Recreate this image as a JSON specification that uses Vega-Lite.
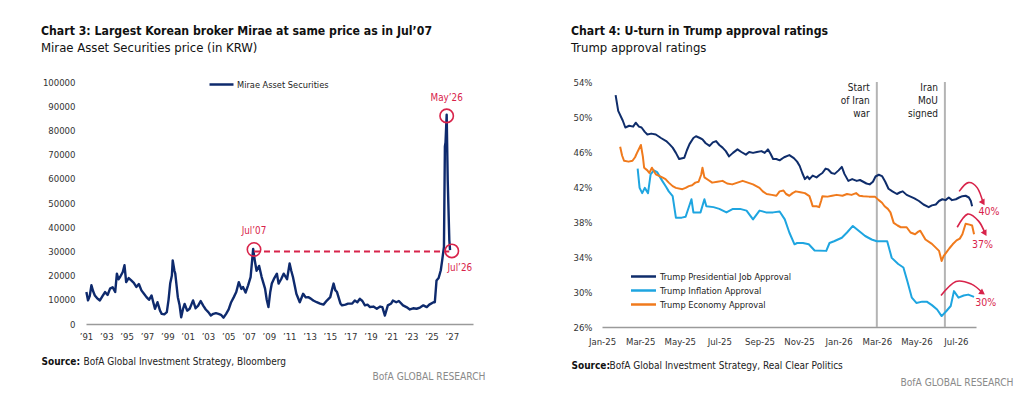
{
  "$schema": "https://vega.github.io/schema/vega-lite/v6.json",
  "description": "Chart 3: Mirae Asset Securities price; Chart 4: Trump approval ratings",
  "background": "white",
  "padding": {"left": 41, "top": 24, "right": 5, "bottom": 5},
  "spacing": 86,
  "resolve": {"scale": {"color": "independent"}, "legend": {"color": "independent"}},
  "config": {
    "font": "DejaVu Sans Condensed, DejaVu Sans, sans-serif",
    "view": {"stroke": null},
    "axis": {
      "grid": false,
      "ticks": false,
      "labelFlush": false,
      "labelOverlap": false,
      "labelFontSize": 9.5,
      "labelColor": "#333",
      "domainColor": "#9a9a9a",
      "domainWidth": 1.5,
      "titleFontSize": 10,
      "titleColor": "#222",
      "titleFontWeight": "normal"
    },
    "title": {
      "anchor": "start",
      "frame": "bounds",
      "fontSize": 12.2,
      "fontWeight": "bold",
      "color": "#111",
      "subtitleFontSize": 13,
      "subtitleColor": "#111",
      "subtitlePadding": 5,
      "offset": 22
    }
  },
  "datasets": {
    "mirae": [
      {"date": "1991-01-15", "price": 13200}, {"date": "1991-03-15", "price": 9750}, {"date": "1991-05-15", "price": 11500},
      {"date": "1991-07-15", "price": 16000}, {"date": "1991-09-15", "price": 13500}, {"date": "1991-11-15", "price": 11800},
      {"date": "1992-02-15", "price": 10500}, {"date": "1992-05-15", "price": 9750}, {"date": "1992-08-15", "price": 11500},
      {"date": "1992-11-15", "price": 13200}, {"date": "1993-02-15", "price": 12000}, {"date": "1993-05-15", "price": 14600},
      {"date": "1993-08-15", "price": 15200}, {"date": "1993-11-15", "price": 13200}, {"date": "1994-01-15", "price": 20800},
      {"date": "1994-03-15", "price": 18500}, {"date": "1994-05-15", "price": 19500}, {"date": "1994-08-15", "price": 21500},
      {"date": "1994-10-15", "price": 24300}, {"date": "1994-12-15", "price": 17300}, {"date": "1995-03-15", "price": 19000},
      {"date": "1995-06-15", "price": 18000}, {"date": "1995-09-15", "price": 17000}, {"date": "1995-12-15", "price": 15300},
      {"date": "1996-03-15", "price": 16500}, {"date": "1996-06-15", "price": 13900}, {"date": "1996-09-15", "price": 12500},
      {"date": "1996-12-15", "price": 11100}, {"date": "1997-03-15", "price": 10000}, {"date": "1997-06-15", "price": 11800},
      {"date": "1997-08-15", "price": 9000}, {"date": "1997-10-15", "price": 6300}, {"date": "1998-01-15", "price": 9000},
      {"date": "1998-04-15", "price": 5500}, {"date": "1998-06-15", "price": 4200}, {"date": "1998-09-15", "price": 4000},
      {"date": "1998-12-15", "price": 4900}, {"date": "1999-02-15", "price": 10000}, {"date": "1999-04-15", "price": 16700},
      {"date": "1999-06-15", "price": 20000}, {"date": "1999-07-15", "price": 26300}, {"date": "1999-09-15", "price": 22000},
      {"date": "1999-10-15", "price": 20800}, {"date": "2000-01-15", "price": 11100}, {"date": "2000-03-15", "price": 8000},
      {"date": "2000-05-15", "price": 2800}, {"date": "2000-07-15", "price": 6000}, {"date": "2000-09-15", "price": 8300},
      {"date": "2000-12-15", "price": 5500}, {"date": "2001-03-15", "price": 6300}, {"date": "2001-05-15", "price": 8000},
      {"date": "2001-07-15", "price": 9750}, {"date": "2001-10-15", "price": 6500}, {"date": "2002-01-15", "price": 7600},
      {"date": "2002-04-15", "price": 9500}, {"date": "2002-07-15", "price": 7600}, {"date": "2002-10-15", "price": 6000},
      {"date": "2003-01-15", "price": 4900}, {"date": "2003-04-15", "price": 3500}, {"date": "2003-07-15", "price": 4200},
      {"date": "2003-10-15", "price": 4500}, {"date": "2004-01-15", "price": 4200}, {"date": "2004-04-15", "price": 3800},
      {"date": "2004-07-15", "price": 2600}, {"date": "2004-10-15", "price": 4200}, {"date": "2005-01-15", "price": 6000},
      {"date": "2005-04-15", "price": 9000}, {"date": "2005-07-15", "price": 11000}, {"date": "2005-10-15", "price": 13200},
      {"date": "2006-01-15", "price": 17300}, {"date": "2006-04-15", "price": 14500}, {"date": "2006-06-15", "price": 15300},
      {"date": "2006-09-15", "price": 13000}, {"date": "2006-12-15", "price": 16000}, {"date": "2007-03-15", "price": 19400},
      {"date": "2007-06-15", "price": 31000}, {"date": "2007-08-15", "price": 26000}, {"date": "2007-10-15", "price": 22000},
      {"date": "2008-01-15", "price": 24000}, {"date": "2008-04-15", "price": 19400}, {"date": "2008-08-15", "price": 14600},
      {"date": "2008-10-15", "price": 10000}, {"date": "2008-12-15", "price": 7000}, {"date": "2009-02-15", "price": 13000},
      {"date": "2009-04-15", "price": 16700}, {"date": "2009-07-15", "price": 19000}, {"date": "2009-10-15", "price": 20800},
      {"date": "2009-12-15", "price": 16700}, {"date": "2010-03-15", "price": 18500}, {"date": "2010-06-15", "price": 20800},
      {"date": "2010-10-15", "price": 18500}, {"date": "2011-01-15", "price": 25000}, {"date": "2011-03-15", "price": 22000},
      {"date": "2011-05-15", "price": 19400}, {"date": "2011-07-15", "price": 16000}, {"date": "2011-09-15", "price": 12500},
      {"date": "2012-01-15", "price": 9000}, {"date": "2012-05-15", "price": 12500}, {"date": "2012-08-15", "price": 11000},
      {"date": "2012-11-15", "price": 11100}, {"date": "2013-02-15", "price": 10500}, {"date": "2013-05-15", "price": 9700},
      {"date": "2013-09-15", "price": 9000}, {"date": "2014-01-15", "price": 8400}, {"date": "2014-05-15", "price": 8000},
      {"date": "2014-09-15", "price": 9700}, {"date": "2015-01-15", "price": 11100}, {"date": "2015-03-15", "price": 14000},
      {"date": "2015-05-15", "price": 16700}, {"date": "2015-07-15", "price": 14000}, {"date": "2015-09-15", "price": 13200},
      {"date": "2016-01-15", "price": 8500}, {"date": "2016-03-15", "price": 7700}, {"date": "2016-07-15", "price": 8000},
      {"date": "2016-10-15", "price": 8400}, {"date": "2017-03-15", "price": 8500}, {"date": "2017-06-15", "price": 9700},
      {"date": "2017-09-15", "price": 9000}, {"date": "2017-12-15", "price": 10400}, {"date": "2018-03-15", "price": 9500},
      {"date": "2018-06-15", "price": 7700}, {"date": "2018-09-15", "price": 8000}, {"date": "2018-12-15", "price": 7000},
      {"date": "2019-04-15", "price": 7200}, {"date": "2019-08-15", "price": 6300}, {"date": "2019-12-15", "price": 7200},
      {"date": "2020-03-01", "price": 7000}, {"date": "2020-06-01", "price": 3500}, {"date": "2020-09-15", "price": 7700},
      {"date": "2021-01-15", "price": 8500}, {"date": "2021-03-15", "price": 9700}, {"date": "2021-07-15", "price": 9000},
      {"date": "2021-10-15", "price": 9500}, {"date": "2022-03-15", "price": 7700}, {"date": "2022-07-15", "price": 7000},
      {"date": "2022-11-15", "price": 6000}, {"date": "2023-03-15", "price": 6500}, {"date": "2023-07-15", "price": 6300},
      {"date": "2023-11-15", "price": 6800}, {"date": "2024-03-15", "price": 7700}, {"date": "2024-07-15", "price": 7000},
      {"date": "2024-10-15", "price": 8000}, {"date": "2025-03-15", "price": 9000}, {"date": "2025-05-01", "price": 9000},
      {"date": "2025-07-01", "price": 18000}, {"date": "2025-09-15", "price": 19000}, {"date": "2025-12-01", "price": 22200},
      {"date": "2026-01-20", "price": 26300}, {"date": "2026-03-25", "price": 31900}, {"date": "2026-04-28", "price": 73400},
      {"date": "2026-05-20", "price": 75000}, {"date": "2026-07-01", "price": 86500}, {"date": "2026-08-07", "price": 59500},
      {"date": "2026-10-04", "price": 34600}, {"date": "2026-10-30", "price": 30500}
    ],
    "mirae_marks": [
      {"date": "2007-07-15", "price": 30800, "label": "Jul’07"},
      {"date": "2026-07-01", "price": 86000, "label": "May’26"},
      {"date": "2027-01-01", "price": 30200, "label": "Jul’26"}
    ],
    "mirae_level": [
      {"date": "2007-07-15", "end": "2026-10-01", "price": 30000}
    ],
    "approval": [
      {"date": "2025-01-22", "series": "Trump Presidential Job Approval", "value": 52.5},
      {"date": "2025-01-26", "series": "Trump Presidential Job Approval", "value": 50.7},
      {"date": "2025-02-02", "series": "Trump Presidential Job Approval", "value": 49.6},
      {"date": "2025-02-06", "series": "Trump Presidential Job Approval", "value": 48.8},
      {"date": "2025-02-12", "series": "Trump Presidential Job Approval", "value": 49.0},
      {"date": "2025-02-18", "series": "Trump Presidential Job Approval", "value": 48.9},
      {"date": "2025-02-22", "series": "Trump Presidential Job Approval", "value": 49.35},
      {"date": "2025-02-27", "series": "Trump Presidential Job Approval", "value": 48.9},
      {"date": "2025-03-03", "series": "Trump Presidential Job Approval", "value": 48.8},
      {"date": "2025-03-08", "series": "Trump Presidential Job Approval", "value": 48.3},
      {"date": "2025-03-12", "series": "Trump Presidential Job Approval", "value": 48.0},
      {"date": "2025-03-18", "series": "Trump Presidential Job Approval", "value": 48.1},
      {"date": "2025-03-25", "series": "Trump Presidential Job Approval", "value": 48.0},
      {"date": "2025-04-02", "series": "Trump Presidential Job Approval", "value": 47.6},
      {"date": "2025-04-10", "series": "Trump Presidential Job Approval", "value": 47.25},
      {"date": "2025-04-15", "series": "Trump Presidential Job Approval", "value": 46.9},
      {"date": "2025-04-20", "series": "Trump Presidential Job Approval", "value": 46.5},
      {"date": "2025-04-25", "series": "Trump Presidential Job Approval", "value": 45.9},
      {"date": "2025-04-30", "series": "Trump Presidential Job Approval", "value": 45.2},
      {"date": "2025-05-08", "series": "Trump Presidential Job Approval", "value": 45.35},
      {"date": "2025-05-12", "series": "Trump Presidential Job Approval", "value": 46.2},
      {"date": "2025-05-16", "series": "Trump Presidential Job Approval", "value": 46.9},
      {"date": "2025-05-22", "series": "Trump Presidential Job Approval", "value": 47.6},
      {"date": "2025-05-26", "series": "Trump Presidential Job Approval", "value": 47.8},
      {"date": "2025-06-01", "series": "Trump Presidential Job Approval", "value": 47.6},
      {"date": "2025-06-05", "series": "Trump Presidential Job Approval", "value": 47.45},
      {"date": "2025-06-10", "series": "Trump Presidential Job Approval", "value": 47.0},
      {"date": "2025-06-16", "series": "Trump Presidential Job Approval", "value": 46.7},
      {"date": "2025-06-21", "series": "Trump Presidential Job Approval", "value": 47.1},
      {"date": "2025-06-26", "series": "Trump Presidential Job Approval", "value": 47.25},
      {"date": "2025-07-01", "series": "Trump Presidential Job Approval", "value": 46.8},
      {"date": "2025-07-06", "series": "Trump Presidential Job Approval", "value": 46.5},
      {"date": "2025-07-11", "series": "Trump Presidential Job Approval", "value": 46.1},
      {"date": "2025-07-16", "series": "Trump Presidential Job Approval", "value": 45.5},
      {"date": "2025-07-22", "series": "Trump Presidential Job Approval", "value": 45.9},
      {"date": "2025-07-29", "series": "Trump Presidential Job Approval", "value": 46.3},
      {"date": "2025-08-04", "series": "Trump Presidential Job Approval", "value": 46.0},
      {"date": "2025-08-11", "series": "Trump Presidential Job Approval", "value": 45.7},
      {"date": "2025-08-16", "series": "Trump Presidential Job Approval", "value": 46.0},
      {"date": "2025-08-22", "series": "Trump Presidential Job Approval", "value": 45.9},
      {"date": "2025-08-28", "series": "Trump Presidential Job Approval", "value": 46.0},
      {"date": "2025-09-04", "series": "Trump Presidential Job Approval", "value": 46.1},
      {"date": "2025-09-09", "series": "Trump Presidential Job Approval", "value": 45.9},
      {"date": "2025-09-14", "series": "Trump Presidential Job Approval", "value": 46.3},
      {"date": "2025-09-18", "series": "Trump Presidential Job Approval", "value": 45.8},
      {"date": "2025-09-22", "series": "Trump Presidential Job Approval", "value": 45.2},
      {"date": "2025-09-27", "series": "Trump Presidential Job Approval", "value": 45.2},
      {"date": "2025-10-02", "series": "Trump Presidential Job Approval", "value": 45.05},
      {"date": "2025-10-09", "series": "Trump Presidential Job Approval", "value": 45.4},
      {"date": "2025-10-17", "series": "Trump Presidential Job Approval", "value": 45.65},
      {"date": "2025-10-24", "series": "Trump Presidential Job Approval", "value": 45.3},
      {"date": "2025-10-29", "series": "Trump Presidential Job Approval", "value": 44.9},
      {"date": "2025-11-02", "series": "Trump Presidential Job Approval", "value": 44.4},
      {"date": "2025-11-06", "series": "Trump Presidential Job Approval", "value": 43.6},
      {"date": "2025-11-10", "series": "Trump Presidential Job Approval", "value": 42.9},
      {"date": "2025-11-14", "series": "Trump Presidential Job Approval", "value": 43.2},
      {"date": "2025-11-17", "series": "Trump Presidential Job Approval", "value": 42.9},
      {"date": "2025-11-22", "series": "Trump Presidential Job Approval", "value": 43.3},
      {"date": "2025-11-28", "series": "Trump Presidential Job Approval", "value": 43.1},
      {"date": "2025-12-03", "series": "Trump Presidential Job Approval", "value": 43.4},
      {"date": "2025-12-07", "series": "Trump Presidential Job Approval", "value": 43.6},
      {"date": "2025-12-12", "series": "Trump Presidential Job Approval", "value": 44.1},
      {"date": "2025-12-16", "series": "Trump Presidential Job Approval", "value": 44.0},
      {"date": "2025-12-21", "series": "Trump Presidential Job Approval", "value": 43.6},
      {"date": "2025-12-26", "series": "Trump Presidential Job Approval", "value": 43.5},
      {"date": "2026-01-01", "series": "Trump Presidential Job Approval", "value": 43.9},
      {"date": "2026-01-06", "series": "Trump Presidential Job Approval", "value": 44.3},
      {"date": "2026-01-10", "series": "Trump Presidential Job Approval", "value": 43.5},
      {"date": "2026-01-16", "series": "Trump Presidential Job Approval", "value": 42.7},
      {"date": "2026-01-22", "series": "Trump Presidential Job Approval", "value": 42.9},
      {"date": "2026-01-29", "series": "Trump Presidential Job Approval", "value": 42.7},
      {"date": "2026-02-03", "series": "Trump Presidential Job Approval", "value": 42.8},
      {"date": "2026-02-08", "series": "Trump Presidential Job Approval", "value": 42.6},
      {"date": "2026-02-13", "series": "Trump Presidential Job Approval", "value": 42.4},
      {"date": "2026-02-18", "series": "Trump Presidential Job Approval", "value": 42.3},
      {"date": "2026-02-23", "series": "Trump Presidential Job Approval", "value": 42.6},
      {"date": "2026-02-27", "series": "Trump Presidential Job Approval", "value": 43.2},
      {"date": "2026-03-04", "series": "Trump Presidential Job Approval", "value": 43.4},
      {"date": "2026-03-09", "series": "Trump Presidential Job Approval", "value": 43.25},
      {"date": "2026-03-14", "series": "Trump Presidential Job Approval", "value": 42.6},
      {"date": "2026-03-19", "series": "Trump Presidential Job Approval", "value": 41.8},
      {"date": "2026-03-25", "series": "Trump Presidential Job Approval", "value": 41.5},
      {"date": "2026-04-01", "series": "Trump Presidential Job Approval", "value": 41.2},
      {"date": "2026-04-06", "series": "Trump Presidential Job Approval", "value": 41.4},
      {"date": "2026-04-10", "series": "Trump Presidential Job Approval", "value": 41.5},
      {"date": "2026-04-16", "series": "Trump Presidential Job Approval", "value": 41.1},
      {"date": "2026-04-22", "series": "Trump Presidential Job Approval", "value": 40.9},
      {"date": "2026-04-28", "series": "Trump Presidential Job Approval", "value": 40.7},
      {"date": "2026-05-05", "series": "Trump Presidential Job Approval", "value": 40.4},
      {"date": "2026-05-12", "series": "Trump Presidential Job Approval", "value": 40.0},
      {"date": "2026-05-20", "series": "Trump Presidential Job Approval", "value": 39.7},
      {"date": "2026-05-25", "series": "Trump Presidential Job Approval", "value": 39.9},
      {"date": "2026-05-31", "series": "Trump Presidential Job Approval", "value": 40.0},
      {"date": "2026-06-05", "series": "Trump Presidential Job Approval", "value": 40.4},
      {"date": "2026-06-10", "series": "Trump Presidential Job Approval", "value": 40.6},
      {"date": "2026-06-15", "series": "Trump Presidential Job Approval", "value": 40.5},
      {"date": "2026-06-20", "series": "Trump Presidential Job Approval", "value": 40.8},
      {"date": "2026-06-25", "series": "Trump Presidential Job Approval", "value": 40.5},
      {"date": "2026-07-01", "series": "Trump Presidential Job Approval", "value": 40.6},
      {"date": "2026-07-06", "series": "Trump Presidential Job Approval", "value": 40.8},
      {"date": "2026-07-11", "series": "Trump Presidential Job Approval", "value": 40.95},
      {"date": "2026-07-16", "series": "Trump Presidential Job Approval", "value": 41.0},
      {"date": "2026-07-21", "series": "Trump Presidential Job Approval", "value": 40.8},
      {"date": "2026-07-24", "series": "Trump Presidential Job Approval", "value": 40.4},
      {"date": "2026-07-26", "series": "Trump Presidential Job Approval", "value": 39.8},
      {"date": "2025-02-25", "series": "Trump Inflation Approval", "value": 44.1},
      {"date": "2025-02-28", "series": "Trump Inflation Approval", "value": 41.9},
      {"date": "2025-03-04", "series": "Trump Inflation Approval", "value": 41.3},
      {"date": "2025-03-08", "series": "Trump Inflation Approval", "value": 41.9},
      {"date": "2025-03-13", "series": "Trump Inflation Approval", "value": 41.3},
      {"date": "2025-03-17", "series": "Trump Inflation Approval", "value": 43.45},
      {"date": "2025-03-22", "series": "Trump Inflation Approval", "value": 43.9},
      {"date": "2025-03-27", "series": "Trump Inflation Approval", "value": 43.7},
      {"date": "2025-04-04", "series": "Trump Inflation Approval", "value": 42.7},
      {"date": "2025-04-10", "series": "Trump Inflation Approval", "value": 42.0},
      {"date": "2025-04-14", "series": "Trump Inflation Approval", "value": 41.5},
      {"date": "2025-04-20", "series": "Trump Inflation Approval", "value": 40.95},
      {"date": "2025-04-25", "series": "Trump Inflation Approval", "value": 38.5},
      {"date": "2025-05-04", "series": "Trump Inflation Approval", "value": 38.5},
      {"date": "2025-05-10", "series": "Trump Inflation Approval", "value": 38.6},
      {"date": "2025-05-19", "series": "Trump Inflation Approval", "value": 40.6},
      {"date": "2025-05-22", "series": "Trump Inflation Approval", "value": 39.1},
      {"date": "2025-06-02", "series": "Trump Inflation Approval", "value": 39.1},
      {"date": "2025-06-08", "series": "Trump Inflation Approval", "value": 40.6},
      {"date": "2025-06-11", "series": "Trump Inflation Approval", "value": 39.8},
      {"date": "2025-06-22", "series": "Trump Inflation Approval", "value": 39.7},
      {"date": "2025-07-01", "series": "Trump Inflation Approval", "value": 39.5},
      {"date": "2025-07-12", "series": "Trump Inflation Approval", "value": 39.1},
      {"date": "2025-07-22", "series": "Trump Inflation Approval", "value": 39.5},
      {"date": "2025-08-02", "series": "Trump Inflation Approval", "value": 39.5},
      {"date": "2025-08-12", "series": "Trump Inflation Approval", "value": 39.3},
      {"date": "2025-08-22", "series": "Trump Inflation Approval", "value": 38.3},
      {"date": "2025-09-01", "series": "Trump Inflation Approval", "value": 39.3},
      {"date": "2025-09-11", "series": "Trump Inflation Approval", "value": 39.1},
      {"date": "2025-09-22", "series": "Trump Inflation Approval", "value": 39.1},
      {"date": "2025-10-02", "series": "Trump Inflation Approval", "value": 39.2},
      {"date": "2025-10-10", "series": "Trump Inflation Approval", "value": 38.3},
      {"date": "2025-10-17", "series": "Trump Inflation Approval", "value": 36.8},
      {"date": "2025-10-25", "series": "Trump Inflation Approval", "value": 35.45},
      {"date": "2025-10-29", "series": "Trump Inflation Approval", "value": 35.6},
      {"date": "2025-11-07", "series": "Trump Inflation Approval", "value": 35.6},
      {"date": "2025-11-16", "series": "Trump Inflation Approval", "value": 35.45},
      {"date": "2025-11-25", "series": "Trump Inflation Approval", "value": 34.75},
      {"date": "2025-12-13", "series": "Trump Inflation Approval", "value": 34.7},
      {"date": "2025-12-18", "series": "Trump Inflation Approval", "value": 35.6},
      {"date": "2025-12-25", "series": "Trump Inflation Approval", "value": 35.8},
      {"date": "2026-01-06", "series": "Trump Inflation Approval", "value": 36.2},
      {"date": "2026-01-14", "series": "Trump Inflation Approval", "value": 36.8},
      {"date": "2026-01-23", "series": "Trump Inflation Approval", "value": 37.55},
      {"date": "2026-02-01", "series": "Trump Inflation Approval", "value": 37.0},
      {"date": "2026-02-11", "series": "Trump Inflation Approval", "value": 36.4},
      {"date": "2026-02-21", "series": "Trump Inflation Approval", "value": 36.0},
      {"date": "2026-03-01", "series": "Trump Inflation Approval", "value": 35.8},
      {"date": "2026-03-17", "series": "Trump Inflation Approval", "value": 35.8},
      {"date": "2026-03-24", "series": "Trump Inflation Approval", "value": 33.9},
      {"date": "2026-04-03", "series": "Trump Inflation Approval", "value": 33.2},
      {"date": "2026-04-11", "series": "Trump Inflation Approval", "value": 32.8},
      {"date": "2026-04-17", "series": "Trump Inflation Approval", "value": 31.25},
      {"date": "2026-04-24", "series": "Trump Inflation Approval", "value": 29.35},
      {"date": "2026-05-01", "series": "Trump Inflation Approval", "value": 28.75},
      {"date": "2026-05-10", "series": "Trump Inflation Approval", "value": 28.9},
      {"date": "2026-05-17", "series": "Trump Inflation Approval", "value": 28.9},
      {"date": "2026-05-25", "series": "Trump Inflation Approval", "value": 28.5},
      {"date": "2026-06-02", "series": "Trump Inflation Approval", "value": 28.0},
      {"date": "2026-06-09", "series": "Trump Inflation Approval", "value": 27.25},
      {"date": "2026-06-16", "series": "Trump Inflation Approval", "value": 27.8},
      {"date": "2026-06-23", "series": "Trump Inflation Approval", "value": 28.4},
      {"date": "2026-06-28", "series": "Trump Inflation Approval", "value": 30.1},
      {"date": "2026-07-05", "series": "Trump Inflation Approval", "value": 29.35},
      {"date": "2026-07-13", "series": "Trump Inflation Approval", "value": 29.6},
      {"date": "2026-07-20", "series": "Trump Inflation Approval", "value": 29.7},
      {"date": "2026-07-29", "series": "Trump Inflation Approval", "value": 29.45},
      {"date": "2025-01-29", "series": "Trump Economy Approval", "value": 46.6},
      {"date": "2025-02-01", "series": "Trump Economy Approval", "value": 45.6},
      {"date": "2025-02-04", "series": "Trump Economy Approval", "value": 45.0},
      {"date": "2025-02-11", "series": "Trump Economy Approval", "value": 44.9},
      {"date": "2025-02-17", "series": "Trump Economy Approval", "value": 45.0},
      {"date": "2025-02-21", "series": "Trump Economy Approval", "value": 45.4},
      {"date": "2025-02-24", "series": "Trump Economy Approval", "value": 45.9},
      {"date": "2025-03-02", "series": "Trump Economy Approval", "value": 46.8},
      {"date": "2025-03-05", "series": "Trump Economy Approval", "value": 45.5},
      {"date": "2025-03-07", "series": "Trump Economy Approval", "value": 44.2},
      {"date": "2025-03-12", "series": "Trump Economy Approval", "value": 43.9},
      {"date": "2025-03-15", "series": "Trump Economy Approval", "value": 43.6},
      {"date": "2025-03-19", "series": "Trump Economy Approval", "value": 44.2},
      {"date": "2025-03-25", "series": "Trump Economy Approval", "value": 43.45},
      {"date": "2025-04-04", "series": "Trump Economy Approval", "value": 43.1},
      {"date": "2025-04-09", "series": "Trump Economy Approval", "value": 42.9},
      {"date": "2025-04-14", "series": "Trump Economy Approval", "value": 42.5},
      {"date": "2025-04-20", "series": "Trump Economy Approval", "value": 42.1},
      {"date": "2025-04-25", "series": "Trump Economy Approval", "value": 41.9},
      {"date": "2025-05-05", "series": "Trump Economy Approval", "value": 41.75},
      {"date": "2025-05-10", "series": "Trump Economy Approval", "value": 41.9},
      {"date": "2025-05-15", "series": "Trump Economy Approval", "value": 42.1},
      {"date": "2025-05-20", "series": "Trump Economy Approval", "value": 42.2},
      {"date": "2025-05-25", "series": "Trump Economy Approval", "value": 42.5},
      {"date": "2025-05-30", "series": "Trump Economy Approval", "value": 42.6},
      {"date": "2025-06-03", "series": "Trump Economy Approval", "value": 43.4},
      {"date": "2025-06-05", "series": "Trump Economy Approval", "value": 44.2},
      {"date": "2025-06-08", "series": "Trump Economy Approval", "value": 43.1},
      {"date": "2025-06-14", "series": "Trump Economy Approval", "value": 42.8},
      {"date": "2025-06-20", "series": "Trump Economy Approval", "value": 42.5},
      {"date": "2025-06-28", "series": "Trump Economy Approval", "value": 42.6},
      {"date": "2025-07-06", "series": "Trump Economy Approval", "value": 42.7},
      {"date": "2025-07-13", "series": "Trump Economy Approval", "value": 42.4},
      {"date": "2025-07-21", "series": "Trump Economy Approval", "value": 42.3},
      {"date": "2025-07-29", "series": "Trump Economy Approval", "value": 42.5},
      {"date": "2025-08-06", "series": "Trump Economy Approval", "value": 42.7},
      {"date": "2025-08-14", "series": "Trump Economy Approval", "value": 42.5},
      {"date": "2025-08-22", "series": "Trump Economy Approval", "value": 42.3},
      {"date": "2025-09-01", "series": "Trump Economy Approval", "value": 41.9},
      {"date": "2025-09-06", "series": "Trump Economy Approval", "value": 41.5},
      {"date": "2025-09-12", "series": "Trump Economy Approval", "value": 41.2},
      {"date": "2025-09-20", "series": "Trump Economy Approval", "value": 41.1},
      {"date": "2025-09-27", "series": "Trump Economy Approval", "value": 41.0},
      {"date": "2025-10-02", "series": "Trump Economy Approval", "value": 41.5},
      {"date": "2025-10-08", "series": "Trump Economy Approval", "value": 41.6},
      {"date": "2025-10-12", "series": "Trump Economy Approval", "value": 41.2},
      {"date": "2025-10-17", "series": "Trump Economy Approval", "value": 41.0},
      {"date": "2025-10-22", "series": "Trump Economy Approval", "value": 41.3},
      {"date": "2025-10-27", "series": "Trump Economy Approval", "value": 41.5},
      {"date": "2025-11-03", "series": "Trump Economy Approval", "value": 41.4},
      {"date": "2025-11-10", "series": "Trump Economy Approval", "value": 41.3},
      {"date": "2025-11-17", "series": "Trump Economy Approval", "value": 40.95},
      {"date": "2025-11-20", "series": "Trump Economy Approval", "value": 40.3},
      {"date": "2025-11-22", "series": "Trump Economy Approval", "value": 39.8},
      {"date": "2025-11-28", "series": "Trump Economy Approval", "value": 39.8},
      {"date": "2025-12-02", "series": "Trump Economy Approval", "value": 39.7},
      {"date": "2025-12-05", "series": "Trump Economy Approval", "value": 40.4},
      {"date": "2025-12-07", "series": "Trump Economy Approval", "value": 40.95},
      {"date": "2025-12-15", "series": "Trump Economy Approval", "value": 40.9},
      {"date": "2025-12-22", "series": "Trump Economy Approval", "value": 41.0},
      {"date": "2025-12-29", "series": "Trump Economy Approval", "value": 41.1},
      {"date": "2026-01-07", "series": "Trump Economy Approval", "value": 41.0},
      {"date": "2026-01-14", "series": "Trump Economy Approval", "value": 41.2},
      {"date": "2026-01-21", "series": "Trump Economy Approval", "value": 41.1},
      {"date": "2026-01-28", "series": "Trump Economy Approval", "value": 41.3},
      {"date": "2026-02-02", "series": "Trump Economy Approval", "value": 41.0},
      {"date": "2026-02-08", "series": "Trump Economy Approval", "value": 40.95},
      {"date": "2026-02-17", "series": "Trump Economy Approval", "value": 40.9},
      {"date": "2026-02-26", "series": "Trump Economy Approval", "value": 40.9},
      {"date": "2026-03-04", "series": "Trump Economy Approval", "value": 40.5},
      {"date": "2026-03-09", "series": "Trump Economy Approval", "value": 40.2},
      {"date": "2026-03-13", "series": "Trump Economy Approval", "value": 39.8},
      {"date": "2026-03-18", "series": "Trump Economy Approval", "value": 39.5},
      {"date": "2026-03-22", "series": "Trump Economy Approval", "value": 39.1},
      {"date": "2026-03-27", "series": "Trump Economy Approval", "value": 37.9},
      {"date": "2026-04-02", "series": "Trump Economy Approval", "value": 37.6},
      {"date": "2026-04-07", "series": "Trump Economy Approval", "value": 37.4},
      {"date": "2026-04-16", "series": "Trump Economy Approval", "value": 37.4},
      {"date": "2026-04-22", "series": "Trump Economy Approval", "value": 36.8},
      {"date": "2026-04-29", "series": "Trump Economy Approval", "value": 36.6},
      {"date": "2026-05-04", "series": "Trump Economy Approval", "value": 36.9},
      {"date": "2026-05-07", "series": "Trump Economy Approval", "value": 37.0},
      {"date": "2026-05-15", "series": "Trump Economy Approval", "value": 36.0},
      {"date": "2026-05-25", "series": "Trump Economy Approval", "value": 35.5},
      {"date": "2026-06-05", "series": "Trump Economy Approval", "value": 34.7},
      {"date": "2026-06-09", "series": "Trump Economy Approval", "value": 33.55},
      {"date": "2026-06-12", "series": "Trump Economy Approval", "value": 34.1},
      {"date": "2026-06-16", "series": "Trump Economy Approval", "value": 34.5},
      {"date": "2026-06-21", "series": "Trump Economy Approval", "value": 35.0},
      {"date": "2026-06-26", "series": "Trump Economy Approval", "value": 35.45},
      {"date": "2026-07-02", "series": "Trump Economy Approval", "value": 35.9},
      {"date": "2026-07-07", "series": "Trump Economy Approval", "value": 36.1},
      {"date": "2026-07-11", "series": "Trump Economy Approval", "value": 36.6},
      {"date": "2026-07-16", "series": "Trump Economy Approval", "value": 37.8},
      {"date": "2026-07-22", "series": "Trump Economy Approval", "value": 37.7},
      {"date": "2026-07-26", "series": "Trump Economy Approval", "value": 37.6},
      {"date": "2026-07-29", "series": "Trump Economy Approval", "value": 36.6}
    ],
    "events": [
      {"date": "2026-03-01", "label": "Start\nof Iran\nwar"},
      {"date": "2026-06-14", "label": "Iran\nMoU\nsigned"}
    ],
    "arrows": [
      {"arrow": "job", "date": "2026-07-06", "value": 41.5},
      {"arrow": "job", "date": "2026-07-20", "value": 42.5},
      {"arrow": "job", "date": "2026-08-03", "value": 41.9},
      {"arrow": "job", "date": "2026-08-12", "value": 40.2},
      {"arrow": "economy", "date": "2026-07-03", "value": 37.4},
      {"arrow": "economy", "date": "2026-07-19", "value": 38.9},
      {"arrow": "economy", "date": "2026-08-05", "value": 38.1},
      {"arrow": "economy", "date": "2026-08-15", "value": 36.7},
      {"arrow": "inflation", "date": "2026-06-08", "value": 29.6},
      {"arrow": "inflation", "date": "2026-07-01", "value": 31.2},
      {"arrow": "inflation", "date": "2026-07-25", "value": 30.9},
      {"arrow": "inflation", "date": "2026-08-11", "value": 29.9}
    ],
    "arrow_heads": [
      {"arrow": "job", "date": "2026-08-12", "value": 40.2},
      {"arrow": "economy", "date": "2026-08-15", "value": 36.7},
      {"arrow": "inflation", "date": "2026-08-11", "value": 29.9}
    ],
    "arrow_labels": [
      {"date": "2026-08-21", "value": 39.1, "label": "40%"},
      {"date": "2026-08-11", "value": 35.4, "label": "37%"},
      {"date": "2026-08-16", "value": 28.8, "label": "30%"}
    ]
  },
  "hconcat": [
    {
      "width": 387,
      "height": 242,
      "title": {
        "text": "Chart 3: Largest Korean broker Mirae at same price as in Jul’07",
        "subtitle": "Mirae Asset Securities price (in KRW)"
      },
      "resolve": {"axis": {"y": "independent"}},
      "layer": [
        {
          "data": {"name": "mirae"},
          "mark": {"type": "line", "strokeWidth": 2.4, "strokeJoin": "round"},
          "encoding": {
            "x": {
              "field": "date",
              "type": "temporal",
              "scale": {"type": "utc", "domain": ["1991-01-01", "2029-02-01"], "nice": false},
              "axis": {
                "values": [
                  {"year": 1991, "utc": true}, {"year": 1993, "utc": true}, {"year": 1995, "utc": true},
                  {"year": 1997, "utc": true}, {"year": 1999, "utc": true}, {"year": 2001, "utc": true},
                  {"year": 2003, "utc": true}, {"year": 2005, "utc": true}, {"year": 2007, "utc": true},
                  {"year": 2009, "utc": true}, {"year": 2011, "utc": true}, {"year": 2013, "utc": true},
                  {"year": 2015, "utc": true}, {"year": 2017, "utc": true}, {"year": 2019, "utc": true},
                  {"year": 2021, "utc": true}, {"year": 2023, "utc": true}, {"year": 2025, "utc": true},
                  {"year": 2027, "utc": true}
                ],
                "tickCount": 40,
                "format": "’%y",
                "labelOverlap": false,
                "labelSeparation": 0,
                "labelPadding": 7,
                "title": "BofA Global Investment Strategy, Bloomberg",
                "titleX": -3,
                "titleY": 40,
                "titleAlign": "left",
                "titleBaseline": "alphabetic"
              }
            },
            "y": {
              "field": "price",
              "type": "quantitative",
              "scale": {"domain": [0, 100000], "nice": false},
              "axis": {
                "values": [0, 10000, 20000, 30000, 40000, 50000, 60000, 70000, 80000, 90000, 100000],
                "format": "d",
                "domain": false,
                "labelPadding": 11,
                "title": "Source:",
                "titleAngle": 0,
                "titleAlign": "left",
                "titleBaseline": "alphabetic",
                "titleFontWeight": "bold",
                "titleColor": "#111",
                "titleX": -45,
                "titleY": 282
              }
            },
            "color": {
              "datum": "Mirae Asset Securities",
              "type": "nominal",
              "scale": {"range": ["#0e2a6d"]},
              "legend": {
                "title": null,
                "orient": "none",
                "legendX": 128,
                "legendY": -5,
                "symbolType": "M-2,0H2",
                "symbolSize": 144,
                "symbolStrokeWidth": 2.5,
                "labelOffset": 8,
                "labelFontSize": 9.2,
                "labelColor": "#222"
              }
            }
          }
        },
        {
          "data": {"name": "mirae_level"},
          "mark": {"type": "rule", "color": "#d8234a", "strokeWidth": 2, "strokeDash": [6, 4]},
          "encoding": {
            "x": {"field": "date", "type": "temporal"},
            "x2": {"field": "end"},
            "y": {"field": "price", "type": "quantitative", "axis": null}
          }
        },
        {
          "data": {"name": "mirae_marks"},
          "mark": {"type": "point", "shape": "circle", "filled": false, "color": "#d8234a", "strokeWidth": 1.6, "size": 180, "opacity": 1},
          "encoding": {
            "x": {"field": "date", "type": "temporal"},
            "y": {
              "field": "price",
              "type": "quantitative",
              "axis": {
                "orient": "right",
                "labels": false,
                "domain": false,
                "title": "BofA GLOBAL RESEARCH",
                "titleAngle": 0,
                "titleAlign": "right",
                "titleBaseline": "alphabetic",
                "titleColor": "#8a8a8a",
                "titleFontSize": 10.2,
                "titleX": 12,
                "titleY": 297.5
              }
            }
          }
        },
        {
          "data": {"name": "mirae_marks"},
          "transform": [{"filter": "datum.label !== 'Jul’26'"}],
          "mark": {"type": "text", "color": "#d8234a", "fontSize": 9.8, "dy": -18},
          "encoding": {
            "x": {"field": "date", "type": "temporal"},
            "y": {"field": "price", "type": "quantitative", "axis": null},
            "text": {"field": "label"}
          }
        },
        {
          "data": {"name": "mirae_marks"},
          "transform": [{"filter": "datum.label === 'Jul’26'"}],
          "mark": {"type": "text", "color": "#d8234a", "fontSize": 9.8, "dx": 8, "dy": 17},
          "encoding": {
            "x": {"field": "date", "type": "temporal"},
            "y": {"field": "price", "type": "quantitative", "axis": null},
            "text": {"field": "label"}
          }
        }
      ]
    },
    {
      "width": 374,
      "height": 245,
      "title": {
        "text": "Chart 4: U-turn in Trump approval ratings",
        "subtitle": "Trump approval ratings"
      },
      "resolve": {"axis": {"y": "independent"}},
      "layer": [
        {
          "data": {"name": "events"},
          "mark": {"type": "rule", "color": "#b4b4b4", "strokeWidth": 2},
          "encoding": {
            "x": {"field": "date", "type": "temporal"}
          }
        },
        {
          "data": {"name": "events"},
          "mark": {"type": "text", "align": "right", "baseline": "top", "lineBreak": "\n", "lineHeight": 12.8, "fontSize": 10, "color": "#222", "dx": -7, "dy": 1},
          "encoding": {
            "x": {"field": "date", "type": "temporal"},
            "y": {"datum": 54, "type": "quantitative", "axis": null},
            "text": {"field": "label"}
          }
        },
        {
          "data": {"name": "approval"},
          "mark": {"type": "line", "strokeWidth": 2, "strokeJoin": "round"},
          "encoding": {
            "x": {
              "field": "date",
              "type": "temporal",
              "scale": {"type": "utc", "domain": ["2025-01-01", "2026-08-01"], "nice": false},
              "axis": {
                "values": [
                  {"year": 2025, "month": 1, "utc": true}, {"year": 2025, "month": 3, "utc": true},
                  {"year": 2025, "month": 5, "utc": true}, {"year": 2025, "month": 7, "utc": true},
                  {"year": 2025, "month": 9, "utc": true}, {"year": 2025, "month": 11, "utc": true},
                  {"year": 2026, "month": 1, "utc": true}, {"year": 2026, "month": 3, "utc": true},
                  {"year": 2026, "month": 5, "utc": true}, {"year": 2026, "month": 7, "utc": true}
                ],
                "tickCount": 20,
                "format": "%b-%y",
                "labelOverlap": false,
                "labelPadding": 9,
                "title": "BofA Global Investment Strategy, Real Clear Politics",
                "titleX": 7,
                "titleY": 41.5,
                "titleAlign": "left",
                "titleBaseline": "alphabetic"
              }
            },
            "y": {
              "field": "value",
              "type": "quantitative",
              "scale": {"domain": [26, 54], "nice": false, "zero": false},
              "axis": {
                "values": [26, 30, 34, 38, 42, 46, 50, 54],
                "labelExpr": "datum.value + '%'",
                "domain": false,
                "labelPadding": 10,
                "title": "Source:",
                "titleAngle": 0,
                "titleAlign": "left",
                "titleBaseline": "alphabetic",
                "titleFontWeight": "bold",
                "titleColor": "#111",
                "titleX": -31,
                "titleY": 286.5
              }
            },
            "color": {
              "field": "series",
              "type": "nominal",
              "scale": {
                "domain": ["Trump Presidential Job Approval", "Trump Inflation Approval", "Trump Economy Approval"],
                "range": ["#0f2d6b", "#1ea5e0", "#f07a1c"]
              },
              "legend": {
                "title": null,
                "orient": "none",
                "legendX": 34,
                "legendY": 187,
                "symbolType": "M-2,0H2",
                "symbolSize": 156,
                "symbolStrokeWidth": 2.5,
                "labelOffset": 9,
                "labelFontSize": 9.2,
                "labelColor": "#222",
                "rowPadding": 1
              }
            }
          }
        },
        {
          "data": {"name": "arrows"},
          "mark": {"type": "line", "color": "#d8234a", "strokeWidth": 1.6, "interpolate": "cardinal"},
          "encoding": {
            "x": {"field": "date", "type": "temporal"},
            "y": {"field": "value", "type": "quantitative", "axis": null},
            "detail": {"field": "arrow"}
          }
        },
        {
          "data": {"name": "arrow_heads"},
          "transform": [{"filter": "datum.arrow !== 'inflation'"}],
          "mark": {"type": "point", "shape": "triangle-right", "filled": true, "color": "#d8234a", "size": 45, "angle": 60, "opacity": 1},
          "encoding": {
            "x": {"field": "date", "type": "temporal"},
            "y": {"field": "value", "type": "quantitative", "axis": null}
          }
        },
        {
          "data": {"name": "arrow_heads"},
          "transform": [{"filter": "datum.arrow === 'inflation'"}],
          "mark": {"type": "point", "shape": "triangle-right", "filled": true, "color": "#d8234a", "size": 45, "angle": 35, "opacity": 1},
          "encoding": {
            "x": {"field": "date", "type": "temporal"},
            "y": {"field": "value", "type": "quantitative", "axis": null}
          }
        },
        {
          "data": {"name": "arrow_labels"},
          "mark": {"type": "text", "color": "#d8234a", "fontSize": 10.5},
          "encoding": {
            "x": {"field": "date", "type": "temporal"},
            "y": {
              "field": "value",
              "type": "quantitative",
              "axis": {
                "orient": "right",
                "labels": false,
                "domain": false,
                "title": "BofA GLOBAL RESEARCH",
                "titleAngle": 0,
                "titleAlign": "right",
                "titleBaseline": "alphabetic",
                "titleColor": "#8a8a8a",
                "titleFontSize": 10.2,
                "titleX": 37,
                "titleY": 303
              }
            },
            "text": {"field": "label"}
          }
        }
      ]
    }
  ]
}
